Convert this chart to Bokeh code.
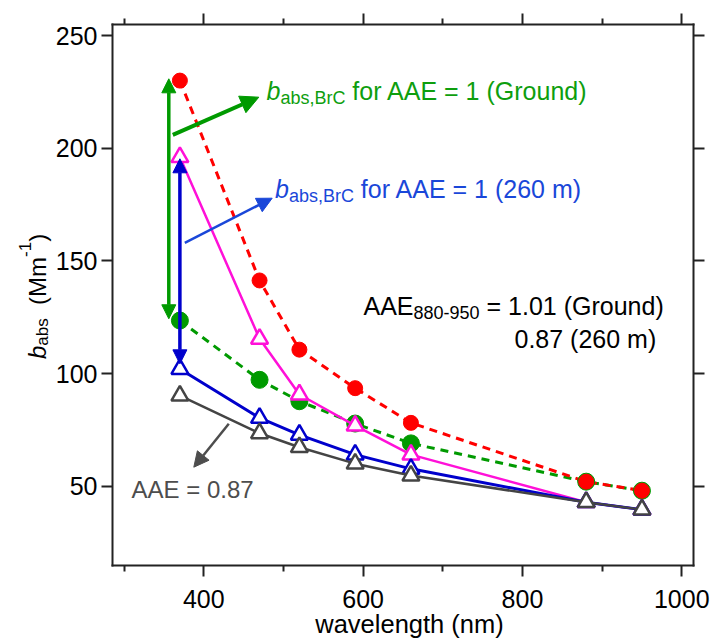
import numpy as np
from bokeh.plotting import figure
from bokeh.models import LinearAxis, FixedTicker, Range1d, Label, Arrow, NormalHead
from bokeh.embed import file_html
from bokeh.resources import INLINE

# ---------------- data ----------------
wavelength = [370, 470, 520, 590, 660, 880, 950]
ground_measured = [230.0, 141.3, 110.6, 93.5, 78.1, 52.0, 48.0]     # red dashed, circles
ground_aae1 = [123.5, 97.2, 87.7, 77.8, 69.0, 52.0, 48.0]           # green dashed, circles
alt_measured = [196.0, 115.4, 90.7, 76.9, 64.0, 42.9, 39.6]         # magenta, triangles
alt_aae1 = [102.0, 80.3, 72.8, 64.0, 57.7, 42.9, 39.6]              # blue, triangles
alt_aae087 = [90.2, 73.5, 67.3, 60.0, 54.7, 42.9, 39.6]             # gray, triangles

x_ticks = [400, 600, 800, 1000]
x_minor_ticks = [300, 500, 700, 900]
y_ticks = [50, 100, 150, 200, 250]

# ---------------- layout ----------------
W, H = 712, 638
FL, FT, FR, FB = 112, 24, 693, 565          # plot box in canvas pixels
XB = (285.4, 1014.7)                        # plot box extent in data units
YB = (14.8, 254.9)
SX = (XB[1] - XB[0]) / (FR - FL)
SY = (YB[1] - YB[0]) / (FB - FT)
X_FULL = (XB[0] - FL * SX, XB[1] + (W - FR) * SX)
Y_FULL = (YB[0] - (H - FB) * SY, YB[1] + FT * SY)
FONT = "Liberation Sans"
BASE_FIX = 0.32   # label baseline correction (em)

p = figure(width=W, height=H, x_range=Range1d(*X_FULL), y_range=Range1d(*Y_FULL),
           output_backend="svg", toolbar_location=None,
           x_axis_location=None, y_axis_location=None, min_border=0,
           min_border_left=0, min_border_right=0, min_border_top=0, min_border_bottom=0)
for g in p.grid:
    g.visible = False
p.outline_line_color = None
p.background_fill_color = "white"
p.border_fill_color = "white"

AX_COLOR = "#222222"


def make_axis(ticks, minor, labels, loc, bounds):
    ax = LinearAxis(ticker=FixedTicker(ticks=ticks, minor_ticks=minor),
                    fixed_location=loc, bounds=bounds)
    ax.axis_line_width = 2
    ax.axis_line_color = AX_COLOR
    ax.axis_line_cap = "square"
    ax.major_tick_line_width = 2
    ax.major_tick_line_color = AX_COLOR
    ax.minor_tick_line_width = 2
    ax.minor_tick_line_color = AX_COLOR
    ax.major_tick_in = 0
    ax.major_tick_out = 11
    ax.minor_tick_in = 0
    ax.minor_tick_out = 6
    ax.major_label_text_font = FONT
    ax.major_label_text_font_size = "25px"
    ax.major_label_text_color = "black" if labels else None
    return ax


bottom = make_axis(x_ticks, x_minor_ticks, True, YB[0], XB)
bottom.major_label_standoff = 13
top = make_axis(x_ticks, x_minor_ticks, False, YB[1], XB)
left = make_axis(y_ticks, [], True, XB[0], YB)
left.major_label_standoff = 4
right = make_axis(y_ticks, [], False, XB[1], YB)
p.add_layout(bottom, "below")
p.add_layout(top, "above")
p.add_layout(left, "left")
p.add_layout(right, "right")

# ---------------- series ----------------
RED = "#ff0000"
GREEN = "#009a00"
MAGENTA = "#ff10d8"
BLUE = "#0000cc"
GRAY = "#444444"

p.line(wavelength, ground_aae1, line_color=GREEN, line_width=3, line_dash="8 6")
p.line(wavelength, ground_measured, line_color=RED, line_width=3, line_dash="8 6")
p.scatter(wavelength, ground_aae1, marker="circle", size=17, fill_color=GREEN, line_color=GREEN)
p.scatter(wavelength, ground_measured, marker="circle", size=15, fill_color=RED, line_color=RED)

for ys, col in ((alt_measured, MAGENTA), (alt_aae1, BLUE), (alt_aae087, GRAY)):
    p.line(wavelength, ys, line_color=col, line_width=3 if col == BLUE else 2.5)
    p.scatter(wavelength, ys, marker="triangle", size=17, fill_color="white",
              line_color=col, line_width=2.5)


# ---------------- helpers for annotations (pixel -> data) ----------------
def px2x(px):
    return X_FULL[0] + px * SX


def px2y(py):
    return Y_FULL[1] - py * SY


ARIAL_W = {
    'a': .556, 'b': .556, 'c': .5, 'd': .556, 'e': .556, 'f': .278, 'g': .556, 'h': .556,
    'i': .222, 'l': .222, 'm': .833, 'n': .556, 'o': .556, 'r': .333, 's': .5, 't': .278,
    'u': .556, 'v': .5, 'w': .722, 'A': .667, 'B': .667, 'C': .722, 'E': .667, 'G': .778,
    'M': .833, ' ': .278, '(': .333, ')': .333, '=': .584, ',': .278, '.': .278, '-': .333,
}


def text_width(s, size):
    return sum(ARIAL_W.get(c, .556) for c in s) * size


def rich(pieces, px, py, color, rotated=False, align="left"):
    """pieces: (text, size, baseline shift down in px, italic); (px, py) = baseline start"""
    if rotated:
        ux, uy, dx, dy, ang = 0, -1, 1, 0, np.pi / 2
    else:
        ux, uy, dx, dy, ang = 1, 0, 0, 1, 0
    if align == "center":
        total = sum(text_width(t, s) for t, s, _, _ in pieces)
        px -= ux * total / 2
        py -= uy * total / 2
    cx, cy = px, py
    for txt, size, shift, italic in pieces:
        lead = len(txt) - len(txt.lstrip(" "))
        if lead:
            w = text_width(" " * lead, size)
            cx += ux * w
            cy += uy * w
            txt = txt.lstrip(" ")
        s = shift - BASE_FIX * size
        lab = Label(x=px2x(cx + dx * s), y=px2y(cy + dy * s), text=txt,
                    text_font=FONT, text_font_size=f"{size}px", text_color=color,
                    text_font_style="italic" if italic else "normal",
                    text_baseline="alphabetic", text_align="left", angle=ang)
        p.add_layout(lab)
        w = text_width(txt, size)
        cx += ux * w
        cy += uy * w


def arrow(x0, y0, x1, y1, color, width, size, both=False):
    def head():
        return NormalHead(size=size, fill_color=color, line_color=color, line_width=1)
    a = Arrow(x_start=x0, y_start=y0, x_end=x1, y_end=y1, line_color=color,
              line_width=width, end=head(), start=head() if both else None)
    p.add_layout(a)


GREEN_T = "#0e9e0e"
BLUE_T = "#1a47d9"
GRAY_T = "#4d4d4d"

# vertical double arrows (between measured and AAE=1 values at 370 nm)
arrow(px2x(168.3), ground_measured[0] + 0.8, px2x(168.3), ground_aae1[0] + 0.8,
      GREEN, 3.5, 14, both=True)
arrow(wavelength[0], alt_measured[0] - 0.7, wavelength[0], alt_aae1[0] + 2.3,
      BLUE, 3.5, 14, both=True)

# diagonal pointer arrows
arrow(px2x(172.3), px2y(134.3), px2x(258.3), px2y(96.7), GREEN, 4, 18)
arrow(px2x(184.3), px2y(242.3), px2x(271.7), px2y(197.7), BLUE_T, 2.5, 15)
arrow(px2x(228.3), px2y(423.3), px2x(193.3), px2y(466.7), GRAY_T, 2.5, 15)

# annotation texts
rich([("b", 25, 0, True), ("abs,BrC", 18, 5, False), (" for AAE = 1 (Ground)", 25, 0, False)],
     266, 98.5, GREEN_T)
rich([("b", 25, 0, True), ("abs,BrC", 18, 5, False), (" for AAE = 1 (260 m)", 25, 0, False)],
     274.5, 196.5, BLUE_T)
rich([("AAE", 25, 0, False), ("880-950", 18, 4, False), (" = 1.01 (Ground)", 25, 0, False)],
     363, 313.3, "black")
rich([("0.87 (260 m)", 25, 0, False)], 514, 346.7, "black")
rich([("AAE = 0.87", 24, 0, False)], 131, 496.7, GRAY_T)

# axis titles
rich([("b", 24, 0, True), ("abs", 17, 2, False), ("  (Mm", 24, 0, False),
      ("-1", 17, -15, False), (")", 24, 0, False)], 45, 358.5, "black", rotated=True)
rich([("wavelength (nm)", 25.5, 0, False)], 409, 631.3, "black", align="center")

open("out.html", "w").write(file_html(p, INLINE))
